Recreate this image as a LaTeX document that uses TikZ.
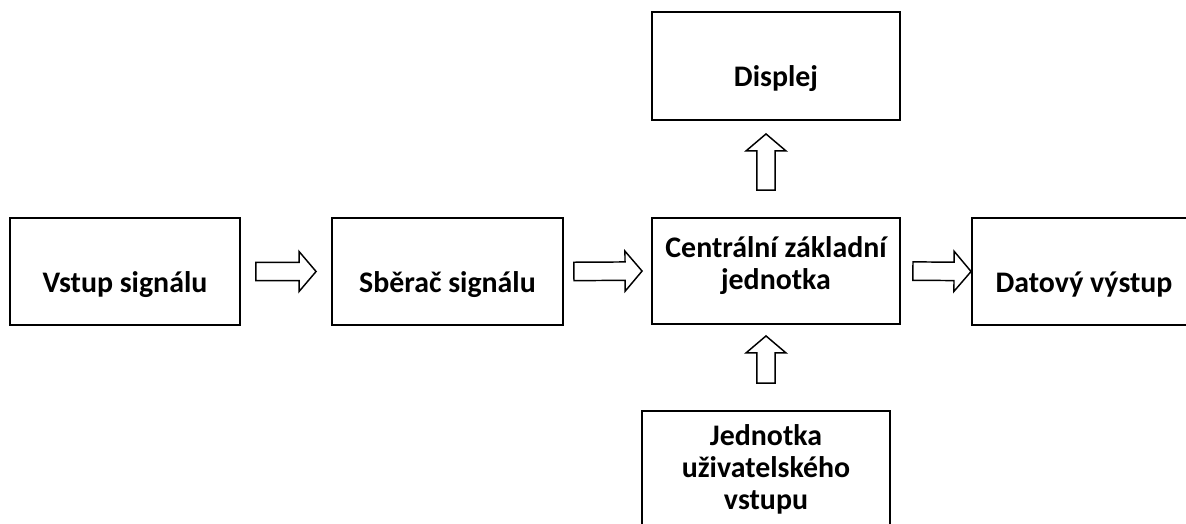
\documentclass[tikz,border=0pt]{standalone}
\usepackage{fontspec}
\setmainfont{Carlito}
\usetikzlibrary{calc}

\tikzset{
  box/.style={draw, line width=1.4pt, inner sep=0pt, align=center,
    font=\bfseries\fontsize{22.4}{24}\selectfont},
  blockarr/.style={draw, line width=1.1pt, line join=miter, fill=white}
}

% hollow block arrow: from, to, gap at start, gap at tip
\newcommand{\blockarrow}[4]{%
  \coordinate (ba-p) at (#1);
  \coordinate (ba-q) at (#2);
  \coordinate (ba-s) at ($(ba-p)!#3!(ba-q)$);
  \coordinate (ba-e) at ($(ba-q)!#4!(ba-p)$);
  \coordinate (ba-b) at ($(ba-e)!12.75pt!(ba-s)$);
  \draw[blockarr] ($(ba-s)!6.9pt!90:(ba-e)$) -- ($(ba-b)!6.9pt!-90:(ba-s)$)
    -- ($(ba-b)!15pt!-90:(ba-s)$) -- (ba-e) -- ($(ba-b)!15pt!90:(ba-s)$)
    -- ($(ba-b)!6.9pt!90:(ba-s)$) -- ($(ba-s)!6.9pt!-90:(ba-e)$) -- cycle;
}

\begin{document}
\begin{tikzpicture}[x=0.75pt,y=0.75pt,yscale=-1,xscale=1]
\useasboundingbox (0,0) rectangle (1186,524);

%Shape: Rectangle [input]
\node[box, minimum width=172.5pt, text height=55.5pt, text depth=24.75pt] (vstup) at (125,271.5) {Vstup signálu};
%Shape: Rectangle [collector]
\node[box, minimum width=173.25pt, text height=55.5pt, text depth=24.75pt] (sberac) at (447.5,271.5) {Sběrač signálu};
%Shape: Rectangle [central unit]
\node[box, minimum width=186pt, text height=53.25pt, text depth=26.25pt] (centr) at (776,271) {Centrální základní\\jednotka};
%Shape: Rectangle [display]
\node[box, minimum width=186pt, text height=56.25pt, text depth=24.75pt] (displej) at (776,66) {Displej};
%Shape: Rectangle [data out]
\node[box, minimum width=168pt, text height=55.5pt, text depth=24.75pt] (datovy) at (1084,271.5) {Datový výstup};
%Shape: Rectangle [user input]
\node[box, minimum width=186pt, text height=73.5pt, text depth=31.5pt] (jed) at (766,481) {Jednotka\\uživatelského\\vstupu};

%Block Arrows
\blockarrow{vstup.east}{sberac.west}{11.25pt}{11.25pt}
\blockarrow{sberac.east}{centr.west}{7.5pt}{6.75pt}
\blockarrow{centr.east}{datovy.west}{9pt}{0pt}
\blockarrow{jed.north |- centr.north}{jed.north |- displej.south}{20.25pt}{9.75pt}
\blockarrow{jed.north}{jed.north |- centr.south}{20.25pt}{8.25pt}

\end{tikzpicture}
\end{document}
